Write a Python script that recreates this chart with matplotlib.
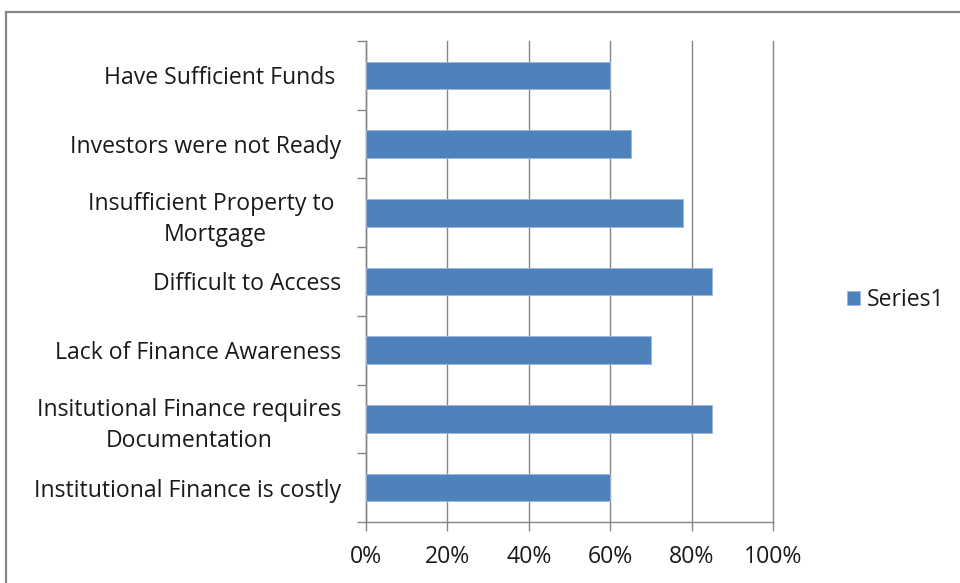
import matplotlib
matplotlib.use("Agg")
import matplotlib.pyplot as plt
from matplotlib.patches import Rectangle, Patch
from matplotlib.ticker import FixedLocator, PercentFormatter

plt.rcParams['font.family'] = ['Open Sans', 'DejaVu Sans']

categories = [
    "Have Sufficient Funds ",
    "Investors were not Ready",
    "Insufficient Property to \nMortgage",
    "Difficult to Access",
    "Lack of Finance Awareness",
    "Insitutional Finance requires\nDocumentation",
    "Institutional Finance is costly",
]
values = [0.60, 0.65, 0.78, 0.85, 0.70, 0.85, 0.60]
series_name = "Series1"
x_ticks = [0, 0.2, 0.4, 0.6, 0.8, 1.0]

bar_color = "#4F81BD"
grid_color = "#868686"
text_color = "#1a1a1a"
fs = 16.6

fig = plt.figure(figsize=(9.6, 5.83), dpi=100)
ax = fig.add_axes([366/960, 1 - 522/583, (773-366)/960, (522-41)/583])

n = len(categories)
ypos = list(range(n))[::-1]
ax.barh(ypos, values, height=0.4, color=bar_color, edgecolor="#9DB7DA", linewidth=0.6, zorder=3)

ax.set_xlim(0, 1.0)
ax.set_ylim(-0.5, n - 0.5)
ax.xaxis.set_major_locator(FixedLocator(x_ticks))
ax.xaxis.set_major_formatter(PercentFormatter(1.0, decimals=0))
ax.grid(axis='x', color=grid_color, linewidth=1.0, zorder=0)
for gl in ax.get_xgridlines():
    gl.set_clip_on(False)

ax.set_yticks(ypos)
ax.set_yticklabels(categories)
ax.yaxis.set_minor_locator(FixedLocator([i - 0.5 for i in range(n + 1)]))
ax.tick_params(axis='y', which='major', length=0, pad=18, labelsize=fs, labelcolor=text_color)
ax.tick_params(axis='y', which='minor', length=6.5, width=1.0, color=grid_color)
ax.tick_params(axis='x', which='major', length=6.5, width=1.0, color=grid_color, pad=10,
               labelsize=fs, labelcolor=text_color)
for lbl in ax.get_yticklabels():
    lbl.set_ha('right')
    lbl.set_multialignment('center')
    lbl.set_linespacing(1.4)

for s in ['top', 'right']:
    ax.spines[s].set_visible(False)
for s in ['left', 'bottom']:
    ax.spines[s].set_color(grid_color)
    ax.spines[s].set_linewidth(1.0)

fig.patches.append(Rectangle((6/960, -0.05), 1.1, 1 - 12/583 + 0.05, transform=fig.transFigure,
                             fill=False, edgecolor=grid_color, linewidth=1.6, zorder=0))

handle = Patch(facecolor=bar_color, edgecolor="#9DB7DA", linewidth=0.6)
fig.legend([handle], [series_name], loc='center left', bbox_to_anchor=(847/960, 1 - 300/583),
           frameon=False, fontsize=fs, handlelength=0.55, handleheight=0.55, handletextpad=0.3,
           borderaxespad=0, borderpad=0, labelcolor=text_color)

fig.savefig("out.png", dpi=100)
